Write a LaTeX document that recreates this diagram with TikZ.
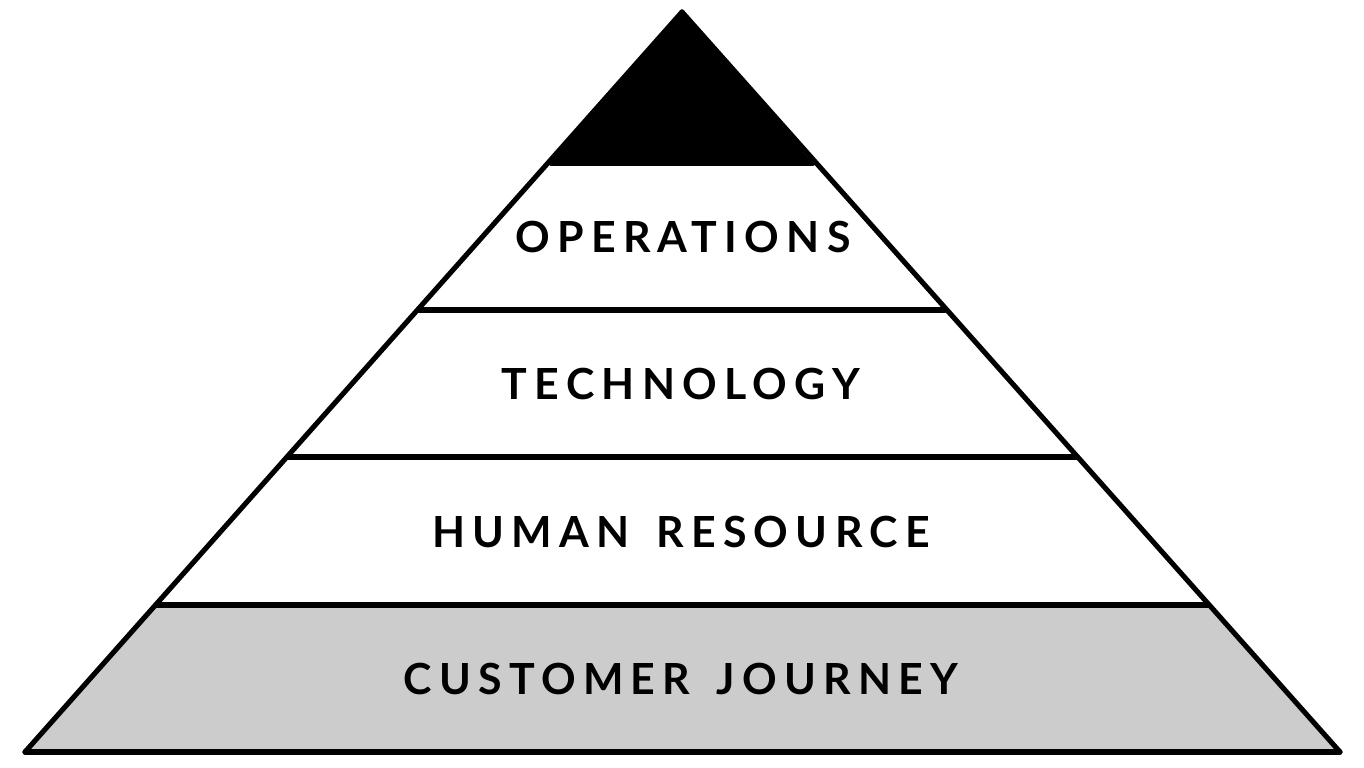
\documentclass[tikz,border=0pt]{standalone}
\usepackage{fontspec}
\newfontfamily\bandfont{Lato}[LetterSpace=17,WordSpace=1.5]
\begin{document}
\begin{tikzpicture}[edge/.style={line width=1.45pt, line join=round, line cap=round}, band/.style={font=\bandfont\bfseries\fontsize{12.2}{14}\selectfont, inner sep=0pt}]
\useasboundingbox (0,0) rectangle (13.64,7.68);
\coordinate (a) at (6.82,7.56);
\coordinate (l4) at (5.51,6.05);
\coordinate (r4) at (8.13,6.05);
\coordinate (l3) at (4.19,4.58);
\coordinate (r3) at (9.45,4.58);
\coordinate (l2) at (2.88,3.11);
\coordinate (r2) at (10.76,3.11);
\coordinate (l1) at (1.56,1.63);
\coordinate (r1) at (12.08,1.63);
\coordinate (l0) at (0.25,0.16);
\coordinate (r0) at (13.40,0.16);

% bottom band and cap
\fill[black!20] (l0) -- (r0) -- (r1) -- (l1) -- cycle;
\fill[black] (a) -- (l4) -- (r4) -- cycle;

\draw[edge] (a) to (l0);
\draw[edge] (a) to (r0);
\draw[edge] (l0) to (r0);
\draw[edge] (l1) to (r1);
\draw[edge] (l2) to (r2);
\draw[edge] (l3) to (r3);
\draw[edge] (l4) to (r4);

\node (ops) at (6.83,5.31) [band] {OPERATIONS};
\node (tech) at (6.81,3.84) [band] {TECHNOLOGY};
\node (hr) at (6.81,2.36) [band] {HUMAN RESOURCE};
\node (cj) at (6.81,0.89) [band] {CUSTOMER JOURNEY};
\end{tikzpicture}
\end{document}
